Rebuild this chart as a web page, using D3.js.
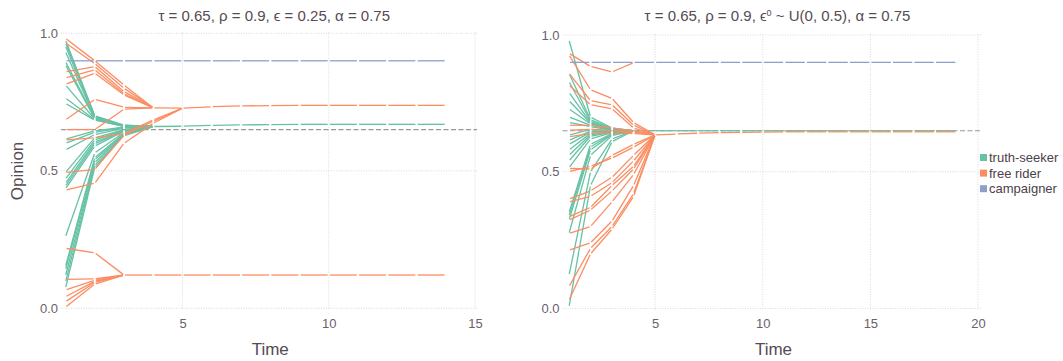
<!DOCTYPE html>
<html>
<head>
<meta charset="utf-8">
<script src="https://cdn.jsdelivr.net/npm/d3@7"></script>
<style>
  body { margin: 0; background: #fff; }
  text { font-family: "Liberation Sans", Helvetica, Arial, sans-serif; }
</style>
</head>
<body>
<svg id="chart" width="1063" height="361"></svg>
<script>
// opinion dynamics, two runs. values
var tau = 0.65;
var groups = ['truth-seeker', 'free rider', 'campaigner'];
var colors = ['#66c2a5', '#fc8d62', '#8da0cb'];

// ---- left run: eps = 0.25, t = 1..14 ----
var leftCampaigner = [0.9,0.9,0.9,0.9,0.9,0.9,0.9,0.9,0.9,0.9,0.9,0.9,0.9,0.9];

// truth-seekers, t = 1..4
var leftTruthSeekers = [
  [0.976,0.700,0.666,0.661],
  [0.966,0.698,0.665,0.661],
  [0.954,0.696,0.665,0.661],
  [0.933,0.694,0.664,0.661],
  [0.897,0.692,0.664,0.661],
  [0.885,0.690,0.663,0.661],
  [0.812,0.688,0.663,0.661],
  [0.764,0.686,0.662,0.661],
  [0.745,0.684,0.662,0.661],
  [0.615,0.645,0.659,0.661],
  [0.600,0.640,0.658,0.661],
  [0.576,0.632,0.655,0.661],
  [0.494,0.620,0.650,0.661],
  [0.470,0.612,0.648,0.661],
  [0.455,0.605,0.646,0.661],
  [0.445,0.598,0.645,0.661],
  [0.435,0.590,0.644,0.661],
  [0.260,0.565,0.640,0.661],
  [0.152,0.548,0.636,0.661],
  [0.140,0.540,0.634,0.661],
  [0.118,0.530,0.632,0.661],
  [0.095,0.520,0.630,0.661],
  [0.073,0.512,0.628,0.661]
];
// shared tail of the truth-seeker cluster, t = 4..14
var leftTruthTail = [0.661,0.662,0.665,0.667,0.668,0.669,0.669,0.669,0.669,0.669,0.669];

// free riders, from t = 1
var leftFreeRiders = [
  [0.982,0.900,0.812,0.729],
  [0.965,0.890,0.800,0.729],
  [0.860,0.879,0.788,0.729],
  [0.838,0.867,0.780,0.729],
  [0.815,0.855,0.776,0.729],
  [0.685,0.760,0.731,0.729],
  [0.650,0.650,0.724,0.729],
  [0.612,0.620,0.635,0.685,0.728],
  [0.494,0.505,0.630,0.680,0.728],
  [0.430,0.455,0.600,0.673,0.728],
  [0.218,0.202,0.121],
  [0.105,0.107,0.121],
  [0.067,0.102,0.121],
  [0.042,0.098,0.121],
  [0.024,0.094,0.121],
  [0.004,0.088,0.121]
];
// shared tails of the two free rider clusters
var leftFreeUpperTail = [0.729,0.728,0.733,0.736,0.737,0.738,0.738,0.738,0.738,0.738,0.738]; // t = 4..14
var leftFreeLowerTail = [0.121,0.121,0.121,0.121,0.121,0.121,0.121,0.121,0.121,0.121,0.121,0.121]; // t = 3..14

// ---- right run: eps0 ~ U(0, 0.5), t = 1..19 ----
var rightCampaigner = [0.9,0.9,0.9,0.9,0.9,0.9,0.9,0.9,0.9,0.9,0.9,0.9,0.9,0.9,0.9,0.9,0.9,0.9,0.9];

// truth-seekers, t = 1..4
var rightTruthSeekers = [
  [0.982,0.700,0.660,0.650],
  [0.860,0.690,0.658,0.650],
  [0.830,0.685,0.657,0.650],
  [0.790,0.680,0.656,0.650],
  [0.760,0.678,0.655,0.650],
  [0.730,0.675,0.654,0.650],
  [0.700,0.670,0.653,0.650],
  [0.680,0.665,0.652,0.650],
  [0.634,0.655,0.650,0.650],
  [0.615,0.648,0.649,0.650],
  [0.600,0.645,0.648,0.650],
  [0.580,0.640,0.647,0.650],
  [0.560,0.635,0.646,0.650],
  [0.540,0.630,0.645,0.650],
  [0.515,0.620,0.643,0.650],
  [0.350,0.600,0.640,0.650],
  [0.338,0.590,0.638,0.650],
  [0.323,0.580,0.636,0.650],
  [0.274,0.560,0.632,0.650],
  [0.122,0.500,0.620,0.650],
  [0.006,0.450,0.610,0.650]
];
// t = 4..19
var rightTruthTail = [0.650,0.650,0.650,0.650,0.650,0.650,0.650,0.650,0.650,0.650,0.650,0.650,0.650,0.650,0.650,0.650];

// free riders, t = 1..5
var rightFreeRiders = [
  [0.933,0.885,0.865,0.899],
  [0.927,0.800,0.768,0.680,0.635],
  [0.860,0.760,0.745,0.670,0.635],
  [0.817,0.745,0.730,0.660,0.635],
  [0.670,0.670,0.660,0.650,0.635],
  [0.652,0.655,0.650,0.645,0.635],
  [0.628,0.640,0.640,0.640,0.635],
  [0.512,0.510,0.560,0.600,0.635],
  [0.500,0.520,0.550,0.590,0.635],
  [0.400,0.430,0.480,0.560,0.635],
  [0.390,0.410,0.460,0.540,0.635],
  [0.335,0.370,0.450,0.520,0.635],
  [0.323,0.360,0.430,0.510,0.635],
  [0.274,0.300,0.390,0.490,0.635],
  [0.213,0.240,0.320,0.450,0.635],
  [0.080,0.220,0.300,0.420,0.635],
  [0.030,0.200,0.290,0.410,0.635]
];
// t = 5..19
var rightFreeTail = [0.635,0.638,0.641,0.643,0.644,0.645,0.646,0.646,0.646,0.646,0.646,0.646,0.646,0.646,0.646];

var leftTicks = [5, 10, 15];
var rightTicks = [5, 10, 15, 20];
var yTicks = [0, 0.5, 1.0];

// panels
var panels = [
  {
    title: 'τ = 0.65, ρ = 0.9, ϵ = 0.25, α = 0.75',
    xDomain: [1, 15], xRange: [65.5, 475], yRange: [308.3, 33.3],
    gridL: 61, gridR: 477, xTicks: leftTicks, ylabel: true,
    series: []
      .concat(leftTruthSeekers.map(v => ({g: 0, t0: 1, v: v})))
      .concat([{g: 0, t0: 4, v: leftTruthTail}])
      .concat(leftFreeRiders.map(v => ({g: 1, t0: 1, v: v})))
      .concat([{g: 1, t0: 4, v: leftFreeUpperTail}, {g: 1, t0: 3, v: leftFreeLowerTail}])
      .concat([{g: 2, t0: 1, v: leftCampaigner}])
  },
  {
    title: null,
    xDomain: [1, 20], xRange: [569, 978], yRange: [308.5, 35],
    gridL: 562.5, gridR: 981, xTicks: rightTicks, ylabel: false,
    series: []
      .concat(rightTruthSeekers.map(v => ({g: 0, t0: 1, v: v})))
      .concat([{g: 0, t0: 4, v: rightTruthTail}])
      .concat(rightFreeRiders.map(v => ({g: 1, t0: 1, v: v})))
      .concat([{g: 1, t0: 5, v: rightFreeTail}])
      .concat([{g: 2, t0: 1, v: rightCampaigner}])
  }
];

var svg = d3.select('#chart');
var gap = 1.1; // little white break at each time step

panels.forEach(function(p, pi) {
  var x = d3.scaleLinear().domain(p.xDomain).range(p.xRange);
  var y = d3.scaleLinear().domain([0, 1]).range(p.yRange);
  var g = svg.append('g');

  // grid
  g.selectAll('.hgrid').data(yTicks).enter().append('line')
    .attr('x1', p.gridL).attr('x2', p.gridR)
    .attr('y1', d => y(d)).attr('y2', d => y(d))
    .attr('stroke', '#d0d0e0').attr('stroke-width', 0.8)
    .attr('stroke-dasharray', '1,1.5');
  g.selectAll('.vgrid').data(p.xTicks).enter().append('line')
    .attr('x1', d => x(d)).attr('x2', d => x(d))
    .attr('y1', y(1) - 1).attr('y2', y(0) + 1)
    .attr('stroke', '#d0d0e0').attr('stroke-width', 0.8)
    .attr('stroke-dasharray', '1,1.5');

  // tau reference
  g.append('line')
    .attr('x1', p.gridL).attr('x2', p.gridR)
    .attr('y1', y(tau)).attr('y2', y(tau))
    .attr('stroke', '#999999').attr('stroke-width', 1.2)
    .attr('stroke-dasharray', '5,2.5');

  // trajectories, drawn segment by segment
  [0, 1, 2].forEach(function(gi) {
    var segs = [];
    p.series.filter(s => s.g === gi).forEach(function(s) {
      for (var i = 0; i < s.v.length - 1; i++) {
        var x0 = x(s.t0 + i), y0 = y(s.v[i]);
        var x1 = x(s.t0 + i + 1), y1 = y(s.v[i + 1]);
        var len = Math.hypot(x1 - x0, y1 - y0);
        var ux = (x1 - x0) / len, uy = (y1 - y0) / len;
        segs.push([x0 + ux * gap, y0 + uy * gap, x1 - ux * gap, y1 - uy * gap]);
      }
    });
    g.append('g').selectAll('line').data(segs).enter().append('line')
      .attr('x1', d => d[0]).attr('y1', d => d[1])
      .attr('x2', d => d[2]).attr('y2', d => d[3])
      .attr('stroke', colors[gi]).attr('stroke-width', 1.3)
      .attr('stroke-linecap', 'butt');
  });

  // axes
  var xAxis = d3.axisBottom(x).tickValues(p.xTicks).tickSize(0).tickPadding(10);
  var gx = g.append('g').attr('transform', 'translate(0,' + y(0) + ')').call(xAxis);
  gx.select('.domain').remove();
  gx.selectAll('text').attr('fill', '#6c606b').style('font-size', '13px');

  var yAxis = d3.axisLeft(y).tickValues(yTicks).tickFormat(d3.format('.1f')).tickSize(0).tickPadding(3);
  var gy = g.append('g').attr('transform', 'translate(' + p.gridL + ',0)').call(yAxis);
  gy.select('.domain').remove();
  gy.selectAll('text').attr('fill', '#6c606b').style('font-size', '13px');

  // labels
  var cx = (p.xRange[0] + p.xRange[1]) / 2;
  g.append('text')
    .attr('x', cx).attr('y', 355)
    .attr('text-anchor', 'middle').attr('fill', '#564a55')
    .style('font-size', '17px').text('Time');

  if (p.ylabel) {
    g.append('text')
      .attr('transform', 'translate(23,171) rotate(-90)')
      .attr('text-anchor', 'middle').attr('fill', '#564a55')
      .style('font-size', '17px').text('Opinion');
  }

  var t = g.append('text')
    .attr('x', cx + 4).attr('y', 21)
    .attr('text-anchor', 'middle').attr('fill', '#564a55')
    .style('font-size', '15px');
  if (p.title) {
    t.text(p.title);
  } else {
    t.append('tspan').text('τ = 0.65, ρ = 0.9, ϵ');
    t.append('tspan').attr('dy', -5).style('font-size', '9px').text('0');
    t.append('tspan').attr('dy', 5).text(' ~ U(0, 0.5), α = 0.75');
  }
});

// legend
var legend = svg.append('g').attr('transform', 'translate(980,154)');
groups.forEach(function(name, i) {
  legend.append('rect')
    .attr('x', 0).attr('y', i * 15.6)
    .attr('width', 7).attr('height', 7)
    .attr('fill', colors[i]);
  legend.append('text')
    .attr('x', 9).attr('y', i * 15.6 + 8)
    .attr('fill', '#4c404b')
    .style('font-size', '13px').text(name);
});
</script>
</body>
</html>
